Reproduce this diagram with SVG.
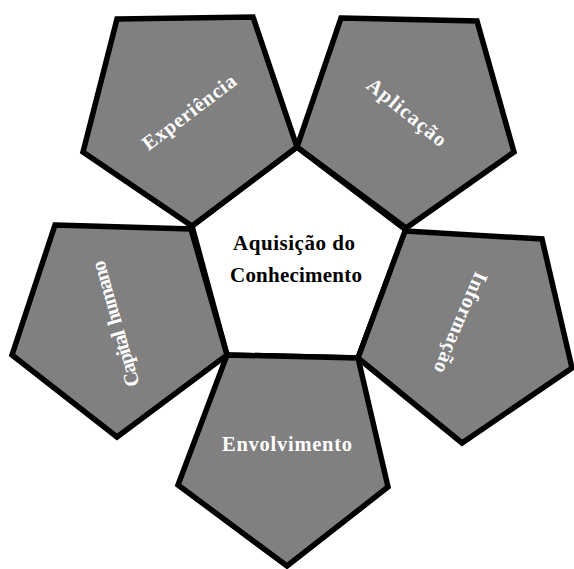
<svg xmlns="http://www.w3.org/2000/svg" width="574" height="569" viewBox="0 0 574 569">
<style>
.pent{fill:#808080;stroke:#000;stroke-width:5.5;stroke-linejoin:miter}
.center{fill:#fff;stroke:#000;stroke-width:5.5;stroke-linejoin:miter}
.lbl{font-family:"Liberation Serif","Times New Roman",serif;font-weight:bold;font-size:20.5px;fill:#fff;text-anchor:middle}
.clbl{font-family:"Liberation Serif","Times New Roman",serif;font-weight:bold;font-size:21px;fill:#000;text-anchor:middle}
</style>
<rect width="574" height="569" fill="#fff"/>
<g id="connectors"></g>
<g id="node-center">
<polygon class="center" points="192,226 297,147 406,230 358,358 227,355"/>
<text class="clbl" x="294" y="250" textLength="122">Aquisição do</text>
<text class="clbl" x="296" y="282" textLength="132">Conhecimento</text>
</g>
<g id="node-experiencia">
<polygon class="pent" points="117,19 253,17 297,147 192,226 83,152"/>
<text class="lbl" transform="translate(189,112) rotate(-37)" y="7" textLength="112">Experiência</text>
</g>
<g id="node-aplicacao">
<polygon class="pent" points="341,18 477,21 514,152 406,228 297,147"/>
<text class="lbl" transform="translate(407,112) rotate(39)" y="7" textLength="96">Aplicação</text>
</g>
<g id="node-capital">
<polygon class="pent" points="55,225 191,229 227,355 117,437 12,355"/>
<text class="lbl" transform="translate(115,324) rotate(-106)" y="7" textLength="130" style="white-space:pre" xml:space="preserve">Capital  humano</text>
</g>
<g id="node-informacao">
<polygon class="pent" points="405,231 542,239 572,368 462,443 358,358"/>
<text class="lbl" transform="translate(461,323) rotate(113)" y="7" textLength="108">Informação</text>
</g>
<g id="node-envolvimento">
<polygon class="pent" points="227,355 358,358 388,487 287,566 178,485"/>
<text class="lbl" x="287" y="451" textLength="130">Envolvimento</text>
</g>
</svg>
